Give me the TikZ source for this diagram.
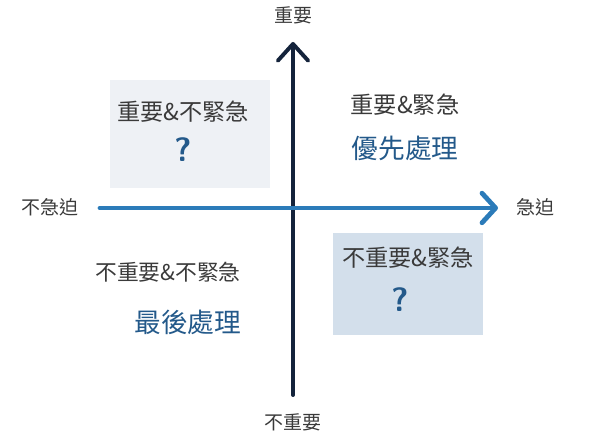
\documentclass[tikz,border=0pt]{standalone}
\usepackage{fontspec}
\newfontfamily\cjk{Noto Sans CJK TC}
\usetikzlibrary{arrows.meta,positioning}
\definecolor{MatrixNavy}{HTML}{14233B}
\definecolor{MatrixBlue}{HTML}{2B7BB9}
\definecolor{MatrixInk}{HTML}{3A3A3A}
\definecolor{MatrixDeep}{HTML}{23598A}
\definecolor{MatrixPale}{HTML}{EEF1F5}
\definecolor{MatrixMist}{HTML}{D3DFEB}

\begin{document}
\begin{tikzpicture}[
	font=\cjk,
	axislabel/.style={text=MatrixInk, font=\cjk\fontsize{13.5}{15}\selectfont, inner sep=1pt},
	quadlabel/.style={text=MatrixInk, font=\cjk\fontsize{16.5}{19}\selectfont, inner sep=1pt},
	actionlabel/.style={text=MatrixDeep, font=\cjk\fontsize{19}{22}\selectfont, inner sep=1pt},
	qmark/.style={text=MatrixDeep, font=\sffamily\bfseries\fontsize{24}{26}\selectfont, inner sep=1pt},
	vaxis/.style={draw=MatrixNavy, line width=2.8pt, line cap=round, -{Straight Barb[length=4.2mm, width=7.6mm, line cap=round, line join=round]}},
	haxis/.style={draw=MatrixBlue, line width=3.4pt, line cap=round, -{Straight Barb[length=3.4mm, width=7.4mm, line cap=round, line join=round]}}
]
\useasboundingbox (0,0) rectangle (15,10.925);

% quadrant panels
\fill[MatrixPale] (2.75,6.225) rectangle (6.75,8.925);
\fill[MatrixMist] (8.325,2.55) rectangle (12.075,5.1);

% axes
\coordinate (vlow) at (7.325,1.05);
\coordinate (vhigh) at (7.325,9.875);
\coordinate (hlow) at (2.5,5.725);
\coordinate (hhigh) at (12.45,5.725);
\draw[vaxis] (vlow) -- (vhigh);
\draw[haxis] (hlow) -- (hhigh);

\node[axislabel] (important) at (7.325,10.55) {重要};
\node[axislabel] (unimportant) at (7.325,0.375) {不重要};
\node[axislabel] (noturgent) at (1.25,5.75) {不急迫};
\node[axislabel] (urgent) at (13.375,5.75) {急迫};

\node[quadlabel] (imp) at (4.575,8.125) {重要\&不緊急};
\node[qmark] (impq) at (4.575,7.175) {?};

\node[quadlabel] (both) at (10.125,8.3) {重要\&緊急};
\node[actionlabel] (first) at (10.125,7.225) {優先處理};

\node[quadlabel, font=\cjk\fontsize{15.5}{18}\selectfont] (neither) at (4.2,4.125) {不重要\&不緊急};
\node[actionlabel] (last) at (4.7,2.875) {最後處理};

\node[quadlabel] (urg) at (10.2,4.475) {不重要\&緊急};
\node[qmark] (urgq) at (10.0,3.425) {?};
\end{tikzpicture}
\end{document}
